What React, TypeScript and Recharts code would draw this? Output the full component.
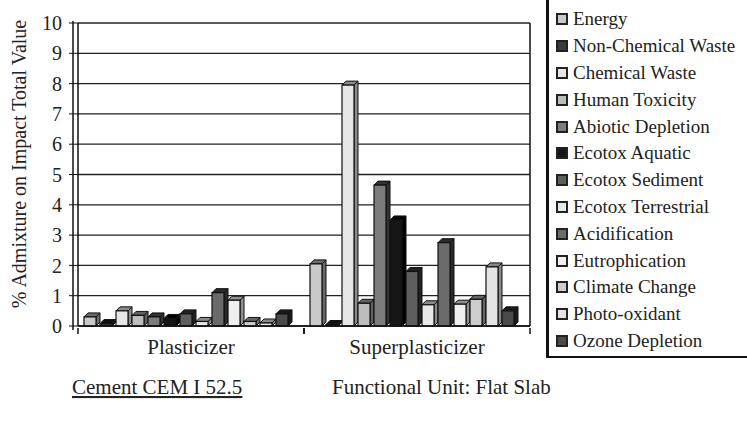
import React from 'react';
import { Bar, BarChart, CartesianGrid, XAxis, YAxis } from 'recharts';

const CATEGORIES = ['Plasticizer', 'Superplasticizer'];

const SERIES = [
  'Energy',
  'Non-Chemical Waste',
  'Chemical Waste',
  'Human Toxicity',
  'Abiotic Depletion',
  'Ecotox Aquatic',
  'Ecotox Sediment',
  'Ecotox Terrestrial',
  'Acidification',
  'Eutrophication',
  'Climate Change',
  'Photo-oxidant',
  'Ozone Depletion',
];

const PLASTICIZER = [0.3, 0.08, 0.5, 0.35, 0.3, 0.25, 0.4, 0.15, 1.1, 0.85, 0.15, 0.1, 0.4];
const SUPERPLASTICIZER = [2.05, 0.05, 7.95, 0.75, 4.65, 3.5, 1.8, 0.7, 2.75, 0.72, 0.88, 1.95, 0.5];

const Y_TICKS = [0, 1, 2, 3, 4, 5, 6, 7, 8, 9, 10];

const FILLS = [
  '#c9c9c9', '#3a3a3a', '#e6e6e6', '#bdbdbd', '#7c7c7c', '#161616', '#5e5e5e',
  '#e8e8e8', '#6b6b6b', '#efefef', '#cdcdcd', '#e4e4e4', '#4a4a4a',
];
const SIDES = [
  '#6a6a6a', '#111111', '#8a8a8a', '#606060', '#333333', '#000000', '#222222',
  '#8a8a8a', '#2a2a2a', '#909090', '#666666', '#888888', '#1a1a1a',
];

const VALUES = [PLASTICIZER, SUPERPLASTICIZER];
const data = CATEGORIES.map((name, ci) => {
  const row: Record<string, string | number> = { name };
  SERIES.forEach((s, si) => {
    row[s] = VALUES[ci][si];
  });
  return row;
});

const FONT = "'Liberation Serif', 'Times New Roman', Times, 'DejaVu Serif', serif";
const INK = '#222';

const Bar3D = (props: any) => {
  const { x, y, width, height, fill, side } = props;
  if (x == null || height == null) return null;
  const d = 4;
  const w = width - d;
  const bottom = y + height;
  return (
    <g>
      <polygon
        points={`${x + w},${y} ${x + width},${y - d} ${x + width},${bottom - d} ${x + w},${bottom}`}
        fill={side}
        stroke="#111"
        strokeWidth={1}
      />
      <polygon
        points={`${x},${y} ${x + d},${y - d} ${x + width},${y - d} ${x + w},${y}`}
        fill={side}
        stroke="#111"
        strokeWidth={1}
      />
      <rect x={x} y={y} width={w} height={height} fill={fill} stroke="#111" strokeWidth={1.2} />
    </g>
  );
};

// category label plus the short marks at the group boundaries
const CategoryTick = (props: any) => {
  const { x, y, payload } = props;
  const half = payload.offset || 0;
  return (
    <g>
      <line x1={x - half} y1={y - 6} x2={x - half} y2={y} stroke="#111" strokeWidth={1.5} />
      <line x1={x + half} y1={y - 6} x2={x + half} y2={y} stroke="#111" strokeWidth={1.5} />
      <text x={x} y={y + 20} textAnchor="middle" fill={INK} fontSize={21} style={{ fontFamily: FONT }}>
        {payload.value}
      </text>
    </g>
  );
};

export default function App() {
  return (
    <div
      style={{
        position: 'absolute',
        left: 0,
        top: 0,
        width: 747,
        height: 422,
        background: '#fff',
        fontFamily: FONT,
        overflow: 'hidden',
      }}
    >
      <BarChart
        width={540}
        height={362}
        data={data}
        margin={{ top: 23, right: 0, left: 0, bottom: 0 }}
        barCategoryGap={6}
        barGap={0}
        style={{ fontFamily: FONT }}
      >
        <CartesianGrid vertical={false} stroke={INK} strokeWidth={1.3} />
        <YAxis
          domain={[0, 10]}
          ticks={Y_TICKS}
          interval={0}
          width={78}
          tick={{ fontSize: 20, fill: INK, style: { fontFamily: FONT } }}
          tickLine={{ stroke: '#111' }}
          tickSize={9}
          tickMargin={7}
          axisLine={{ stroke: '#111', strokeWidth: 1.5 }}
        />
        <YAxis
          yAxisId="right"
          orientation="right"
          domain={[0, 10]}
          width={10}
          tick={false}
          tickLine={false}
          axisLine={{ stroke: '#111', strokeWidth: 1.5 }}
        />
        <XAxis
          dataKey="name"
          height={36}
          tick={<CategoryTick />}
          tickLine={false}
          axisLine={{ stroke: '#111', strokeWidth: 1.5 }}
        />
        {SERIES.map((s, i) => (
          <Bar
            key={s}
            dataKey={s}
            fill={FILLS[i]}
            isAnimationActive={false}
            shape={(p: any) => <Bar3D {...p} fill={FILLS[i]} side={SIDES[i]} />}
          />
        ))}
      </BarChart>

      <svg
        width={747}
        height={422}
        style={{ position: 'absolute', left: 0, top: 0, pointerEvents: 'none', fontFamily: FONT }}
      >
        {/* back wall edge of the 3D plot */}
        <line x1={73} y1={21} x2={73} y2={330} stroke="#111" strokeWidth={1.5} />
        <text transform="translate(26,164) rotate(-90)" textAnchor="middle" fontSize={20} fill={INK}>
          % Admixture on Impact Total Value
        </text>
        <text x={72} y={394} fontSize={21} fill={INK} textDecoration="underline">
          Cement CEM I 52.5
        </text>
        <text x={332} y={394} fontSize={21} fill={INK}>
          Functional Unit: Flat Slab
        </text>
      </svg>

      <div
        style={{
          position: 'absolute',
          left: 546,
          top: -3,
          width: 215,
          height: 361,
          border: '2px solid #111',
          borderLeftWidth: 3,
          boxSizing: 'border-box',
          paddingTop: 7,
          paddingLeft: 7,
          background: '#fff',
        }}
      >
        {SERIES.map((s, i) => (
          <div
            key={s}
            style={{ display: 'flex', alignItems: 'center', height: 26.8, fontSize: 19, color: INK }}
          >
            <span
              style={{
                display: 'inline-block',
                width: 8,
                height: 8,
                border: '2px solid #222',
                background: FILLS[i],
                marginRight: 5,
              }}
            />
            {s}
          </div>
        ))}
      </div>
    </div>
  );
}
